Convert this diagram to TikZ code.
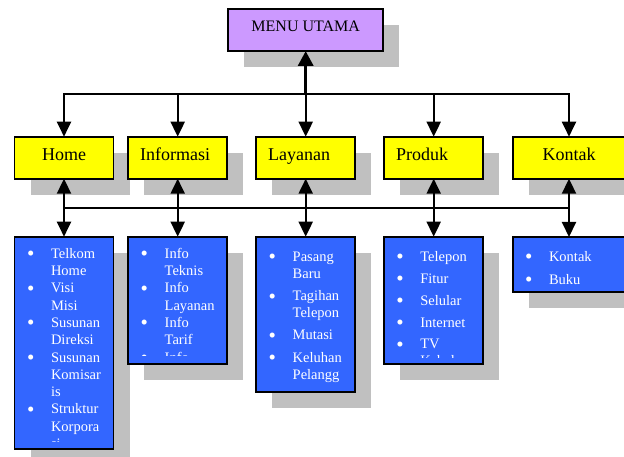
\documentclass[tikz,border=0pt]{standalone}
\usepackage{fontspec}
\setmainfont{Liberation Serif}
\usetikzlibrary{arrows.meta,shadows}

\definecolor{menupurple}{HTML}{CC99FF}
\definecolor{topicyellow}{HTML}{FFFF00}
\definecolor{listblue}{HTML}{3366FF}
\definecolor{shadowgray}{HTML}{C0C0C0}

\newcommand{\itembullet}{\hspace*{-1pt}{\fontsize{21}{0}\selectfont\raisebox{-2.2pt}{\textbullet}}}

\begin{document}
\begin{tikzpicture}[
		x=1pt, y=-1pt,
		every node/.style={inner sep=0pt, outer sep=0pt},
		box/.style={rectangle, draw=black, line width=1.8pt,
			drop shadow={shadow xshift=16pt, shadow yshift=-16pt, fill=shadowgray, opacity=1}},
		menubox/.style={box, fill=menupurple, minimum width=155pt, minimum height=42pt,
			font=\fontsize{16}{19}\selectfont, text height=11pt, text depth=7.6pt},
		topicbox/.style={box, fill=topicyellow, minimum height=42pt, inner xsep=12pt, text width=75pt,
			align=left, font=\fontsize{18}{21}\selectfont, text height=12pt, text depth=6pt},
		listbox/.style={box, fill=listblue, minimum width=99pt},
		listtext/.style={anchor=base west, text=white, font=\fontsize{14.5}{17.3}\selectfont},
		link/.style={line width=2pt, -{Triangle[length=15pt, width=14pt]}},
		menulink/.style={line width=3.5pt, -{Triangle[length=15pt, width=15pt]}},
		twolink/.style={line width=2pt, {Triangle[length=15pt, width=14pt]}-{Triangle[length=15pt, width=14pt]}},
		bus/.style={line width=2pt, line cap=rect}
	]
  \useasboundingbox (0,0) rectangle (624,457);
  % boxes
  \node (menu) [menubox] at (305.7, 30) {MENU UTAMA};
  \node (home) [topicbox, align=center] at (64, 157.7) {Home};
  \node (info) [topicbox] at (177.7, 157.7) {Informasi};
  \node (layanan) [topicbox] at (305.7, 157.7) {Layanan};
  \node (produk) [topicbox] at (433.7, 157.7) {Produk};
  \node (kontak) [topicbox, align=center, text width=88pt] at (569, 157.7) {Kontak};
  \node (home_list) [listbox, minimum height=212.3pt] at (64, 342.85) {};
  \node (info_list) [listbox, minimum height=127.3pt] at (177.7, 300.35) {};
  \node (layanan_list) [listbox, minimum height=155.6pt] at (305.7, 314.5) {};
  \node (produk_list) [listbox, minimum height=127.3pt] at (433.7, 300.35) {};
  \node (kontak_list) [listbox, minimum width=112pt, minimum height=55.3pt] at (569, 264.65) {};
  % list texts, cut off at the box bottom
  \begin{scope}
    \clip (home_list.north west) rectangle ([yshift=7.3pt]home_list.south east);
    \node (home_text) [listtext] at (28, 258.3) {\begin{tabular}[t]{@{}p{23pt}@{}l@{}}
      \itembullet & Telkom \\ & Home \\ \itembullet & Visi \\ & Misi \\
      \itembullet & Susunan \\ & Direksi \\ \itembullet & Susunan \\ & Komisar \\ & is \\
      \itembullet & Struktur \\ & Korpora \\ & si \end{tabular}};
  \end{scope}
  \begin{scope}
    \clip (info_list.north west) rectangle ([yshift=9pt]info_list.south east);
    \node (info_text) [listtext] at (141.7, 258.3) {\begin{tabular}[t]{@{}p{23pt}@{}l@{}}
      \itembullet & Info \\ & Teknis \\ \itembullet & Info \\ & Layanan \\
      \itembullet & Info \\ & Tarif \\ \itembullet & Info \end{tabular}};
  \end{scope}
  \begin{scope}
    \clip (layanan_list.north west) rectangle ([yshift=7pt]layanan_list.south east);
    \node (layanan_text) [listtext, font=\fontsize{14.5}{16.8}\selectfont] at (269.7, 261.7) {\begin{tabular}[t]{@{}p{23pt}@{}l@{}}
      \itembullet & Pasang \\ & Baru \\[5.5pt] \itembullet & Tagihan \\ & Telepon \\[5.5pt]
      \itembullet & Mutasi \\[5.5pt] \itembullet & Keluhan \\ & Pelangg \end{tabular}};
  \end{scope}
  \begin{scope}
    \clip (produk_list.north west) rectangle ([yshift=6.5pt]produk_list.south east);
    \node (produk_text) [listtext, font=\fontsize{14.5}{16.8}\selectfont] at (397.3, 261.7) {\begin{tabular}[t]{@{}p{23pt}@{}l@{}}
      \itembullet & Telepon \\[5pt] \itembullet & Fitur \\[5pt] \itembullet & Selular \\[5pt]
      \itembullet & Internet \\[5pt] \itembullet & TV \\ & Kabel \end{tabular}};
  \end{scope}
  \node (kontak_text) [listtext, font=\fontsize{14.5}{16.8}\selectfont] at (526, 261.7) {\begin{tabular}[t]{@{}p{23pt}@{}l@{}}
    \itembullet & Kontak \\[5.5pt] \itembullet & Buku \end{tabular}};
  % connectors
  \coordinate (top_bus) at (305.7, 94.3);
  \coordinate (low_bus) at (305.7, 207.7);
  \draw[menulink] (top_bus) -- (menu);
  \draw[bus] (home.north |- top_bus) -- (kontak.north |- top_bus);
  \draw[bus] (home.south |- low_bus) -- (kontak.south |- low_bus);
  \foreach \t in {home, info, layanan, produk, kontak} {
    \draw[link] (\t.north |- top_bus) -- (\t);
    \draw[twolink] (\t) -- (\t_list);
  }
\end{tikzpicture}
\end{document}
